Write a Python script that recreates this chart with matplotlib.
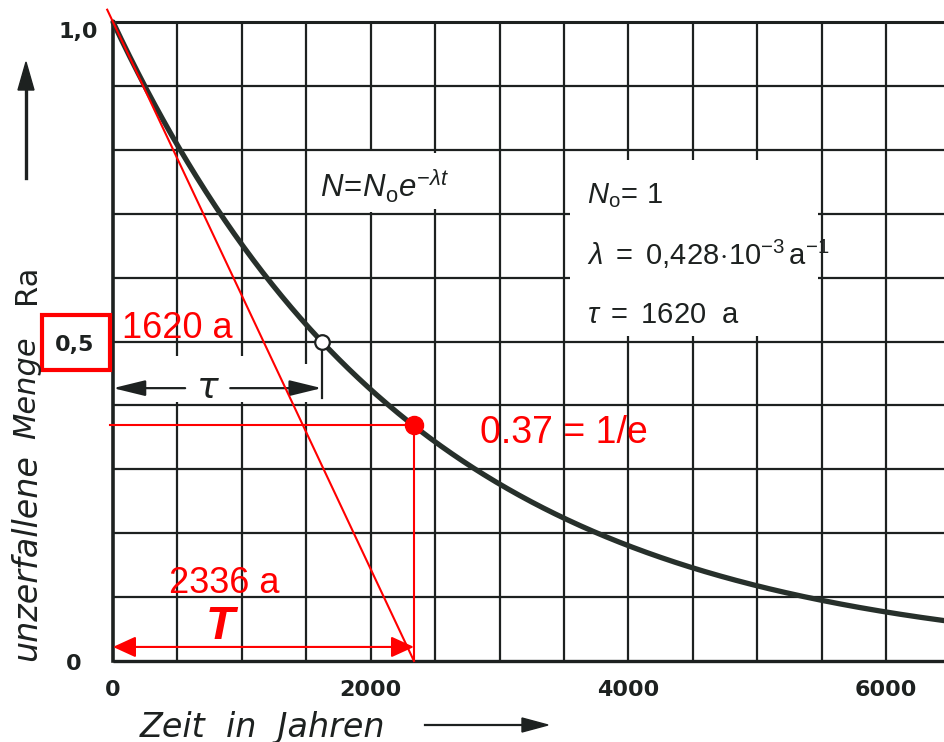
import numpy as np
import matplotlib.pyplot as plt
from matplotlib.patches import Rectangle
from matplotlib.transforms import offset_copy

plt.rcParams["mathtext.fontset"] = "custom"
plt.rcParams["mathtext.rm"] = "Liberation Sans"
plt.rcParams["mathtext.it"] = "Liberation Sans:italic"
plt.rcParams["mathtext.bf"] = "Liberation Sans:bold"

# Radioactive decay of radium: N = N0 * exp(-lambda * t)
N0 = 1.0
lam = 0.428e-3          # decay constant in 1/a
half_life = 1620        # a
mean_life = 2336        # a  (= 1/lambda)
one_over_e = 0.37

x_ticks = [0, 2000, 4000, 6000]
x_tick_labels = ["0", "2000", "4000", "6000"]
y_ticks = [0.0, 0.5, 1.0]
y_tick_labels = ["0", "0,5", "1,0"]

W, H = 944, 742
fig = plt.figure(figsize=(W / 100, H / 100), dpi=100)
fig.patch.set_facecolor("white")


def fx(px):
    return px / W


def fy(py):
    return 1 - py / H


ink = "#1d2120"
curve_col = "#27302b"
red = "#ff0000"
bold_font = dict(family="DejaVu Sans", fontweight="bold", color=ink)

# plot area
left_px, right_px, bottom_px, top_px = 113, 944, 661, 22
ax = fig.add_axes([fx(left_px), fy(bottom_px),
                   (right_px - left_px) / W, (bottom_px - top_px) / H])
ax.set_xlim(0, 6450)
ax.set_ylim(0, 1.0)
for s in ax.spines.values():
    s.set_visible(False)
ax.set_facecolor("white")

# ---- grid with openings for the text panels ----
grid_x = np.arange(500, 6001, 500)
grid_y = np.round(np.arange(0.1, 0.95, 0.1), 1)
v_gaps = {500: [(0.405, 0.478)], 1000: [(0.405, 0.478)], 1500: [(0.405, 0.465)],
          2000: [(0.703, 0.800)], 2500: [(0.708, 0.795)],
          4000: [(0.508, 0.784)], 4500: [(0.508, 0.784)], 5000: [(0.508, 0.784)]}
h_gaps = {0.6: [(3550, 5470)], 0.7: [(3550, 5470)]}


def pieces(lo, hi, gaps):
    out, start = [], lo
    for a, b in sorted(gaps):
        out.append((start, a))
        start = b
    out.append((start, hi))
    return out


for gx in grid_x:
    for a, b in pieces(0.0, 1.0, v_gaps.get(int(gx), [])):
        ax.plot([gx, gx], [a, b], color=ink, lw=1.6, solid_capstyle="butt", zorder=1)
for gy in grid_y:
    for a, b in pieces(0, 6450, h_gaps.get(float(gy), [])):
        ax.plot([a, b], [gy, gy], color=ink, lw=1.6, solid_capstyle="butt", zorder=1)

# frame lines
ax.plot([0, 0], [0, 1.0], color=ink, lw=2.6, solid_capstyle="projecting", zorder=2, clip_on=False)
ax.plot([0, 6450], [0, 0], color=ink, lw=2.4, solid_capstyle="butt", zorder=2, clip_on=False)
ax.plot([0, 6450], [1.0, 1.0], color=ink, lw=2.2, solid_capstyle="butt", zorder=2, clip_on=False)

# ---- decay curve ----
t = np.linspace(0, 6450, 700)
ax.plot(t, N0 * np.exp(-lam * t), color=curve_col, lw=3.8, zorder=4,
        solid_capstyle="round", clip_on=False)

# half-life marker and dimension arrow
n_half = N0 * np.exp(-lam * half_life)
ax.plot([half_life, half_life], [0.412, n_half - 0.012], color=ink, lw=1.6, zorder=3)
ax.plot(half_life, n_half, "o", ms=10.5, mfc="white", mec=ink, mew=1.6, zorder=6)
tau_y = 0.427
arrow_kw = dict(arrowstyle="-|>,head_length=0.9,head_width=0.22", color=ink, lw=1.6,
                shrinkA=0, shrinkB=0, mutation_scale=22)
ax.annotate("", xy=(0, tau_y), xytext=(560, tau_y), arrowprops=arrow_kw, zorder=3)
ax.annotate("", xy=(half_life, tau_y), xytext=(910, tau_y), arrowprops=arrow_kw, zorder=3)
ax.text(735, tau_y, "τ", fontsize=26, style="italic", color=ink,
        ha="center", va="center", family="DejaVu Sans")

# ---- tangent at t = 0, 1/e point and mean life ----
t_line = np.array([-45, mean_life])
ax.plot(t_line, N0 * (1 - t_line / mean_life), color=red, lw=1.5, zorder=5, clip_on=False)
ax.plot([-25, mean_life], [one_over_e, one_over_e], color=red, lw=1.5, zorder=5, clip_on=False)
ax.plot([mean_life, mean_life], [0, one_over_e], color=red, lw=1.5, zorder=5)
ax.plot(mean_life, one_over_e, "o", ms=13, color=red, zorder=7)
ax.annotate("", xy=(0, 0.022), xytext=(mean_life, 0.022),
            arrowprops=dict(arrowstyle="<|-|>,head_length=0.7,head_width=0.32",
                            color=red, lw=1.5, shrinkA=0, shrinkB=0, mutation_scale=20),
            zorder=5)

red_font = dict(family="Liberation Sans", color=red)
ax.text(70, 0.521, f"{half_life} a", fontsize=26, ha="left", va="center", **red_font)
ax.text(2849, 0.357, "0.37 = 1/e", fontsize=27, ha="left", va="center", **red_font)
ax.text(862, 0.122, f"{mean_life} a", fontsize=26, ha="center", va="center", **red_font)
ax.text(830, 0.053, "T", fontsize=34, ha="center", va="center", fontweight="bold",
        style="italic", **red_font)

# ---- formula and parameters ----
ax.text(1607, 0.7246, r"$N\!=\!N_{\mathrm{o}}e^{-\lambda t}$", fontsize=22.5, color=ink,
        ha="left", va="baseline")
ax.text(3679, 0.717, r"$N_{\mathrm{o}}\!=\,\mathrm{1}$", fontsize=21, color=ink,
        ha="left", va="baseline")
ax.text(3679, 0.620, r"$\lambda\ =\ \mathrm{0{,}428}\!\cdot\!\mathrm{10}^{-3}\,\mathrm{a}^{-1}$",
        fontsize=21, color=ink, ha="left", va="baseline")
ax.text(3679, 0.529, r"$\tau\ =\ \mathrm{1620\ \ a}$", fontsize=21, color=ink,
        ha="left", va="baseline")

# ---- tick labels ----
ax.set_xticks(x_ticks)
ax.set_xticklabels(x_tick_labels, fontsize=16, **bold_font)
ax.tick_params(axis="x", length=0, pad=14)
ax.set_yticks([])
ytrans = ax.get_yaxis_transform()
y_offsets = {0.0: (-39, -3), 0.5: (-38, -4), 1.0: (-35, -10)}
for val, lab in zip(y_ticks, y_tick_labels):
    dx, dy = y_offsets[val]
    tr = offset_copy(ytrans, fig=fig, x=dx, y=dy, units="dots")
    ax.text(0, val, lab, transform=tr, fontsize=16, ha="center", va="center",
            clip_on=False, **bold_font)

# highlighted 0,5 label
fig.add_artist(Rectangle((fx(42), fy(370)), (110 - 42) / W, (370 - 315) / H,
                         transform=fig.transFigure, fill=False, ec=red, lw=3))

# ---- axis titles with arrows ----
fig.text(fx(140), fy(727), "Zeit  in  Jahren", fontsize=24, style="italic", color=ink,
         ha="left", va="center", family="DejaVu Sans")
fig.add_artist(plt.Line2D([fx(425), fx(530)], [fy(725), fy(725)], color=ink, lw=1.6))
fig.patches.append(plt.Polygon([[fx(522), fy(718)], [fx(548), fy(725)], [fx(522), fy(732)]],
                               closed=True, color=ink, transform=fig.transFigure))

fig.text(fx(27), fy(558), "unzerfallene", fontsize=24, style="italic", color=ink,
         rotation=90, ha="center", va="center", family="DejaVu Sans")
fig.text(fx(27), fy(388), "Menge", fontsize=22, style="italic", color=ink,
         rotation=90, ha="center", va="center", family="DejaVu Sans")
fig.text(fx(27), fy(284), "Ra", fontsize=22, color=ink,
         rotation=90, ha="center", va="center", family="DejaVu Sans")
fig.add_artist(plt.Line2D([fx(26), fx(26)], [fy(178), fy(85)], color=ink, lw=2.4))
fig.patches.append(plt.Polygon([[fx(18), fy(90)], [fx(26), fy(62)], [fx(34), fy(90)]],
                               closed=True, color=ink, transform=fig.transFigure))

fig.savefig("out.png", dpi=100, facecolor="white")
